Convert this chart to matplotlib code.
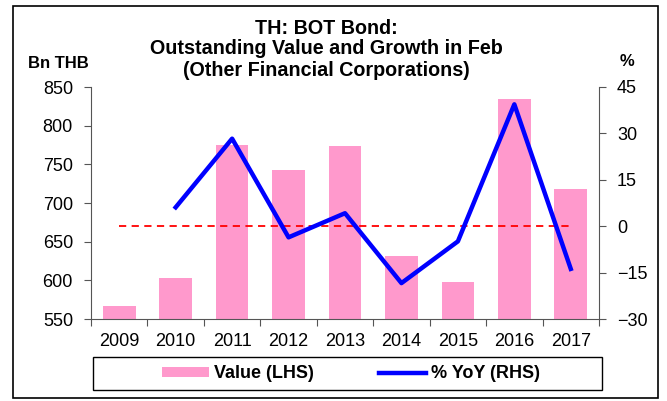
import matplotlib
matplotlib.use("Agg")
import matplotlib.pyplot as plt
from matplotlib.patches import Rectangle

plt.rcParams['font.family'] = ['Liberation Sans', 'DejaVu Sans']

years = ["2009", "2010", "2011", "2012", "2013", "2014", "2015", "2016", "2017"]
value_lhs = [567, 603, 775, 743, 774, 631, 598, 835, 718]
yoy_rhs = [None, 6.1, 28.3, -3.6, 4.2, -18.4, -4.9, 39.4, -13.8]
zero_line = [0, 0, 0, 0, 0, 0, 0, 0, 0]
left_ticks = [550, 600, 650, 700, 750, 800, 850]
right_ticks = [-30, -15, 0, 15, 30, 45]

fig = plt.figure(figsize=(6.67, 4.01), dpi=100)
ax = fig.add_axes([91/667, 1-319/401, (599-91)/667, (319-87)/401])
x = list(range(len(years)))

bars = ax.bar(x, [v - 550 for v in value_lhs], bottom=550, width=0.58,
              color="#ff99cc", label="Value (LHS)", zorder=2)
ax.set_ylim(550, 850)
ax.set_yticks(left_ticks)
ax.set_xlim(-0.5, len(years) - 0.5)
ax.set_xticks([i - 0.5 for i in range(len(years) + 1)], minor=False)
ax.set_xticklabels([])
ax.set_xticks(x, minor=True)
ax.set_xticklabels(years, minor=True)
ax.tick_params(axis='x', which='minor', length=0, labelsize=13, pad=10)
ax.tick_params(axis='x', which='major', length=5, direction='out', color='#555555')
ax.tick_params(axis='y', length=5, direction='out', labelsize=13, color='#555555', pad=8)
for s in ['top', 'right']:
    ax.spines[s].set_visible(False)
for s in ['left', 'bottom']:
    ax.spines[s].set_color('#555555')

ax2 = ax.twinx()
ax2.set_ylim(-30, 45)
ax2.set_yticks(right_ticks)
ax2.tick_params(axis='y', length=5, direction='out', labelsize=13, color='#555555', pad=8)
for s in ['top', 'left', 'bottom']:
    ax2.spines[s].set_visible(False)
ax2.spines['right'].set_color('#555555')

ax2.plot(x, zero_line, color="#ff0000", linestyle=(0, (4, 3)), linewidth=1.3, zorder=3)
xs = [i for i, v in zip(x, yoy_rhs) if v is not None]
ys = [v for v in yoy_rhs if v is not None]
line, = ax2.plot(xs, ys, color="#0000ff", linewidth=3.2, label="% YoY (RHS)", zorder=4)

for txt, yy in [("TH: BOT Bond:", 28), ("Outstanding Value and Growth in Feb", 49),
                ("(Other Financial Corporations)", 71)]:
    fig.text(326/667, 1-yy/401, txt, ha='center', va='center', fontsize=14.2, fontweight='bold')
fig.text(58/667, 1-63/401, "Bn THB", ha='center', va='center', fontsize=12, fontweight='bold')
fig.text(627/667, 1-62/401, "%", ha='center', va='center', fontsize=12, fontweight='bold')

leg = fig.legend([bars, line], ["Value (LHS)", "% YoY (RHS)"], ncol=2,
                 loc='center', bbox_to_anchor=(351/667, 1-374/401),
                 frameon=False, prop={'weight': 'bold', 'size': 13},
                 handlelength=2.6, handleheight=0.5, handletextpad=0.3,
                 columnspacing=3.6, borderaxespad=0, borderpad=0)

fig.patches.append(Rectangle((93/667, 1-390/401), (602-93)/667, 33/401, transform=fig.transFigure,
                             fill=False, edgecolor='black', linewidth=1.0))
fig.patches.append(Rectangle((13/667, 3/401), 645/667, 392/401, transform=fig.transFigure,
                             fill=False, edgecolor='black', linewidth=1.2))

fig.savefig("out.png", dpi=100)
